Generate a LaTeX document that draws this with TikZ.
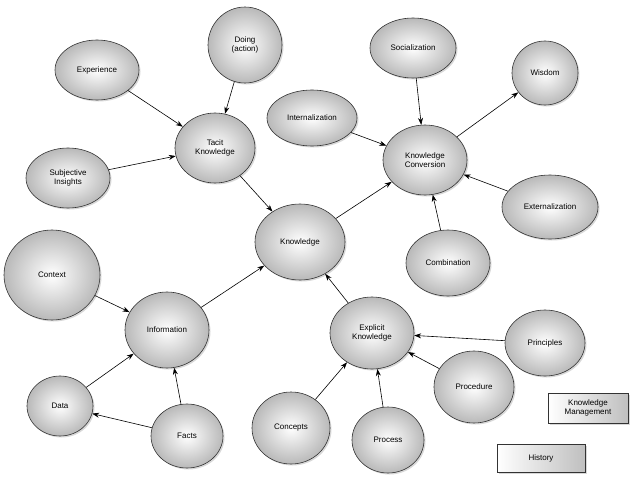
\documentclass[tikz,border=0pt]{standalone}
\usepackage{fontspec}
\setmainfont{Liberation Sans}
\usetikzlibrary{shapes.geometric,arrows.meta,shadows}
\begin{document}
\begin{tikzpicture}[x=1pt,y=-1pt,
  el/.style={ellipse,draw=black!80,line width=0.6pt,inner color=white,outer color=gray!55,
    font=\fontsize{8}{9.5}\selectfont,align=center,inner sep=0pt,
    drop shadow={shadow xshift=1.5pt,shadow yshift=-1.5pt,fill=gray!60}},
  bx/.style={rectangle,draw=black!80,left color=white,right color=gray!50,
    font=\fontsize{8}{9.5}\selectfont,align=center,inner sep=1pt,
    drop shadow={shadow xshift=1.5pt,shadow yshift=-1.5pt,fill=gray!60}},
  ar/.style={-{Stealth[length=7pt,width=5pt]},line width=0.6pt}]
\useasboundingbox (0,0) rectangle (640,479);
\newcommand{\E}[6]{\node[el,minimum width=#4pt,minimum height=#5pt] (#1) at (#2,#3) {#6};}
\E{doing}{245}{45}{74}{76}{Doing\\(action)}
\E{exp}{97}{70}{84}{60}{Experience}
\E{tacit}{215}{148}{80}{70}{Tacit\\Knowledge}
\E{subj}{68}{178}{84}{60}{Subjective\\Insights}
\E{soc}{413}{48}{86}{60}{Socialization}
\E{wis}{545}{73}{66}{64}{Wisdom}
\E{intl}{312}{118}{90}{56}{Internalization}
\E{kc}{425}{160}{84}{70}{Knowledge\\Conversion}
\E{ext}{550}{207}{96}{64}{Externalization}
\E{know}{300}{242}{90}{76}{Knowledge}
\E{comb}{448}{263}{84}{66}{Combination}
\E{ctx}{52}{275}{96}{90}{Context}
\E{info}{167}{330}{84}{76}{Information}
\E{expl}{372}{333}{84}{72}{Explicit\\Knowledge}
\E{prin}{545}{343}{80}{66}{Principles}
\E{proc}{474}{387}{80}{72}{Procedure}
\E{data}{60}{406}{66}{60}{Data}
\E{facts}{187}{436}{72}{64}{Facts}
\E{conc}{291}{428}{78}{72}{Concepts}
\E{pro}{388}{440}{72}{66}{Process}
\node[bx,minimum width=80pt,minimum height=30pt] (km) at (588,408) {Knowledge\\Management};
\node[bx,minimum width=88pt,minimum height=28pt] (hist) at (541,458) {History};
\draw[ar] (exp)--(tacit); \draw[ar] (doing)--(tacit); \draw[ar] (subj)--(tacit);
\draw[ar] (tacit)--(know); \draw[ar] (know)--(kc); \draw[ar] (intl)--(kc);
\draw[ar] (soc)--(kc); \draw[ar] (kc)--(wis); \draw[ar] (ext)--(kc);
\draw[ar] (comb)--(kc); \draw[ar] (expl)--(know); \draw[ar] (info)--(know);
\draw[ar] (ctx)--(info); \draw[ar] (data)--(info); \draw[ar] (facts)--(info);
\draw[ar] (facts)--(data); \draw[ar] (prin)--(expl); \draw[ar] (proc)--(expl);
\draw[ar] (pro)--(expl); \draw[ar] (conc)--(expl);
\end{tikzpicture}
\end{document}
